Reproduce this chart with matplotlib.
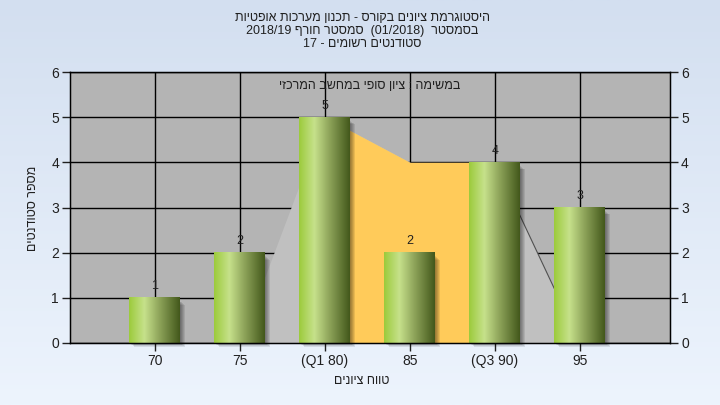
import numpy as np
import matplotlib.pyplot as plt
from matplotlib.colors import LinearSegmentedColormap
from matplotlib.patches import Rectangle

plt.rcParams['font.family'] = ['Liberation Sans', 'DejaVu Sans']

# נתונים
grade_labels = ["70", "75", "(Q1 80)", "85", "(Q3 90)", "95"]
student_counts = [1, 2, 5, 2, 4, 3]
curve_values = [0, 0, 5, 4, 4, 0]
q1_index, q3_index = 2, 4

title_lines = [
    "היסטוגרמת ציונים בקורס - תכנון מערכות אופטיות",
    "בסמסטר  (01/2018)  סמסטר חורף 2018/19",
    "סטודנטים רשומים - 17",
]
inner_text = "במשימה : ציון סופי במחשב המרכזי"
x_title = "טווח ציונים"
y_title = "מספר סטודנטים"


def rtl(text):
    """סדר ויזואלי לעברית (matplotlib לא תומך ב-bidi)"""
    out = []
    for w in reversed(text.split(" ")):
        if any("\u0590" <= c <= "\u05ff" for c in w):
            out.append(w[::-1])
        else:
            out.append(w)
    return " ".join(out)


fig = plt.figure(figsize=(7.2, 4.05), dpi=100)

# רקע מדורג
bg = fig.add_axes([0, 0, 1, 1], zorder=-10)
bg_cmap = LinearSegmentedColormap.from_list("bg", ["#d3dff0", "#edf4fd"])
bg.imshow(np.linspace(0, 1, 256).reshape(-1, 1), aspect="auto", cmap=bg_cmap, extent=[0, 1, 0, 1])
bg.axis("off")

ax = fig.add_axes([70 / 720, 1 - 343 / 405, 600 / 720, 271 / 405])
ax.set_facecolor("#b4b4b4")
x = np.arange(len(grade_labels))

# משטח ההתפלגות
ax.fill_between(x, curve_values, color="#c0c0c0", zorder=1.5, lw=0)
ax.fill_between(x[q1_index:q3_index + 1], curve_values[q1_index:q3_index + 1],
                color="#ffcb5a", zorder=1.6, lw=0)
ax.plot(x[q3_index:], curve_values[q3_index:], color="#505050", lw=0.8, zorder=1.7)
ax.plot(x[:2], curve_values[:2], color="#808080", lw=0.8, zorder=1.7)

# עמודות גליליות
bar_cmap = LinearSegmentedColormap.from_list(
    "cyl", [(0, "#9ccb3c"), (0.3, "#c6e18b"), (0.6, "#8ea45a"), (1, "#43581b")])
grad = np.linspace(0, 1, 128).reshape(1, -1)
w = 0.6
px = 1 / 85
py = 6 / 271
for xi, h in zip(x, student_counts):
    # צל רך
    for k in range(1, 6):
        ax.add_patch(Rectangle((xi - w / 2 + k * px, -k * py * 0.8), w, h - 3 * py,
                               color="black", alpha=0.09, lw=0, zorder=2.5, clip_on=False))
    ax.imshow(grad, cmap=bar_cmap, aspect="auto", extent=[xi - w / 2, xi + w / 2, 0, h], zorder=3)
    ax.annotate(str(h), (xi, h), xytext=(0, 4), textcoords="offset points",
                ha="center", va="bottom", fontsize=9, color="#202020", zorder=4)

ax.set_xlim(-1, 6.06)
ax.set_ylim(0, 6)
ax.set_xticks(x)
ax.set_xticklabels(grade_labels)
ax.set_yticks(range(7))
ax.grid(True, color="black", lw=1)
ax.set_axisbelow(True)
ax.tick_params(length=6, width=1, pad=2, labelsize=10, colors="#202020")
for s in ax.spines.values():
    s.set_linewidth(1)
    s.set_zorder(5)

ax2 = ax.twinx()
ax2.set_ylim(0, 6)
ax2.set_yticks(range(7))
ax2.tick_params(length=6, width=1, pad=2, labelsize=10, colors="#202020")

ax.text(0.5, 0.948, rtl(inner_text), transform=ax.transAxes, ha="center", va="center",
        fontsize=9, color="#202020", zorder=6)

for i, line in enumerate(title_lines):
    fig.text(0.503, 1 - (18 + 13 * i) / 405, rtl(line), ha="center", va="center", fontsize=9, color="#202020")
fig.text(0.503, 1 - 381 / 405, rtl(x_title), ha="center", va="center", fontsize=9, color="#202020")
fig.text(33 / 720, 1 - 208 / 405, rtl(y_title), ha="center", va="center", rotation=90, fontsize=9, color="#202020")

fig.savefig("out.png", dpi=100)
